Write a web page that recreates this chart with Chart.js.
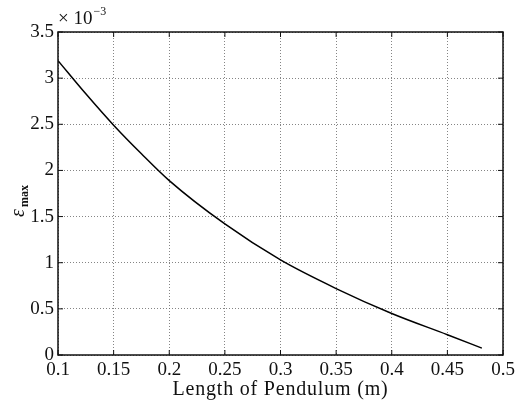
<!DOCTYPE html>
<html>
<head>
<meta charset="utf-8">
<script src="https://cdn.jsdelivr.net/npm/chart.js@4.4.0/dist/chart.umd.min.js"></script>
<style>
  html, body { margin: 0; padding: 0; background: #fff; }
  canvas { display: block; }
</style>
</head>
<body>
<canvas id="chart" width="521" height="400"></canvas>
<script>
// pendulum length (m) and eps_max (x 10^-3)
const lengths = [0.1, 0.125, 0.15, 0.175, 0.2, 0.25, 0.3, 0.35, 0.4, 0.45, 0.481];
const epsMax  = [3.19, 2.83, 2.49, 2.18, 1.89, 1.42, 1.03, 0.72, 0.45, 0.22, 0.075];

const xTicks = [0.1, 0.15, 0.2, 0.25, 0.3, 0.35, 0.4, 0.45, 0.5];
const xTickLabels = ['0.1', '0.15', '0.2', '0.25', '0.3', '0.35', '0.4', '0.45', '0.5'];
const yTicks = [0, 0.5, 1, 1.5, 2, 2.5, 3, 3.5];
const yTickLabels = ['0', '0.5', '1', '1.5', '2', '2.5', '3', '3.5'];
const xTitle = 'Length of Pendulum (m)';

const serif = '"Liberation Serif", "DejaVu Serif", serif';

// frame, inward ticks and the axis titles
const framePlugin = {
  id: 'frame',
  afterDraw(chart) {
    const ctx = chart.ctx;
    const a = chart.chartArea;
    const xs = chart.scales.x, ys = chart.scales.y;
    ctx.save();
    ctx.strokeStyle = '#111';
    ctx.lineWidth = 1.5;
    ctx.strokeRect(a.left, a.top, a.right - a.left, a.bottom - a.top);
    ctx.lineWidth = 1;
    ctx.beginPath();
    xTicks.forEach(v => {
      const px = xs.getPixelForValue(v);
      ctx.moveTo(px, a.bottom); ctx.lineTo(px, a.bottom - 5);
      ctx.moveTo(px, a.top); ctx.lineTo(px, a.top + 5);
    });
    yTicks.forEach(v => {
      const py = ys.getPixelForValue(v);
      ctx.moveTo(a.left, py); ctx.lineTo(a.left + 5, py);
      ctx.moveTo(a.right, py); ctx.lineTo(a.right - 5, py);
    });
    ctx.stroke();

    ctx.fillStyle = '#111';
    ctx.textBaseline = 'alphabetic';

    // x axis title
    ctx.textAlign = 'center';
    ctx.font = '20px ' + serif;
    ctx.letterSpacing = '0.8px';
    ctx.fillText(xTitle, (a.left + a.right) / 2, 395);
    ctx.letterSpacing = '0px';

    // exponent label
    ctx.textAlign = 'left';
    ctx.font = '19px ' + serif;
    ctx.fillText('\u00d7 10', a.left, 24);
    const w = ctx.measureText('\u00d7 10').width;
    ctx.font = '12px ' + serif;
    ctx.fillText('\u22123', a.left + w + 1, 15);

    // y axis title: epsilon_max, rotated
    ctx.translate(24, 217);
    ctx.rotate(-Math.PI / 2);
    ctx.font = 'italic 20px ' + serif;
    ctx.fillText('\u03b5', 0, 0);
    const ew = ctx.measureText('\u03b5').width;
    ctx.font = 'bold 12px ' + serif;
    ctx.fillText('max', ew + 2, 4);
    ctx.restore();
  }
};

new Chart(document.getElementById('chart'), {
  type: 'line',
  data: {
    datasets: [{
      data: lengths.map((x, i) => ({ x: x, y: epsMax[i] })),
      borderColor: '#000',
      borderWidth: 1.5,
      pointRadius: 0,
      fill: false,
      cubicInterpolationMode: 'monotone'
    }]
  },
  options: {
    responsive: false,
    animation: false,
    layout: { padding: { top: 32, right: 18, left: 0, bottom: 0 } },
    plugins: { legend: { display: false }, tooltip: { enabled: false } },
    scales: {
      x: {
        type: 'linear',
        min: 0.1,
        max: 0.5,
        afterBuildTicks: s => { s.ticks = xTicks.map(v => ({ value: v })); },
        afterFit: s => { s.height = 45; },
        ticks: {
          color: '#111',
          font: { family: serif, size: 19 },
          padding: 4,
          maxRotation: 0,
          callback: (v, i) => xTickLabels[i]
        },
        grid: { color: '#666', drawTicks: false, lineWidth: 0.8 },
        border: { display: false, dash: [1, 2] }
      },
      y: {
        min: 0,
        max: 3.5,
        afterBuildTicks: s => { s.ticks = yTicks.map(v => ({ value: v })); },
        afterFit: s => { s.width = 58; },
        ticks: {
          color: '#111',
          font: { family: serif, size: 19 },
          padding: 4,
          callback: (v, i) => yTickLabels[i]
        },
        grid: { color: '#666', drawTicks: false, lineWidth: 0.8 },
        border: { display: false, dash: [1, 2] }
      }
    }
  },
  plugins: [framePlugin]
});
</script>
</body>
</html>
